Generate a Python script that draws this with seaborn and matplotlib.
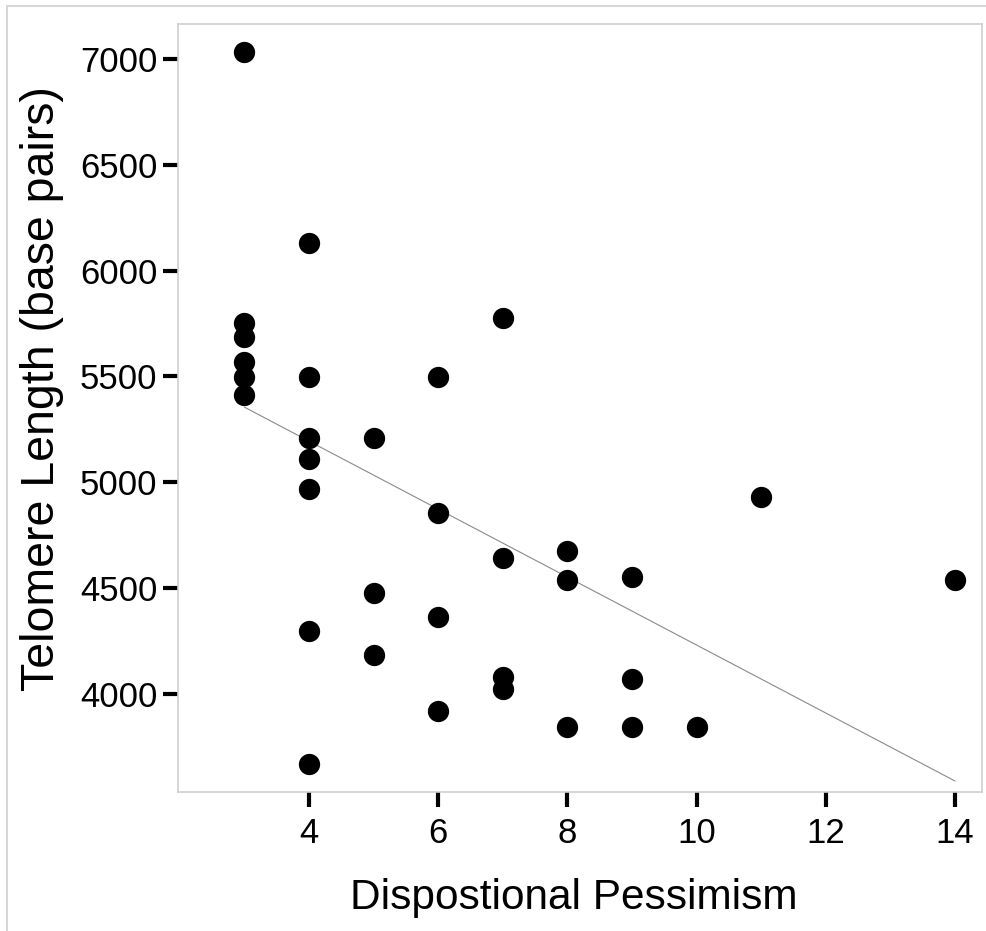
import matplotlib
matplotlib.use("Agg")
import matplotlib.pyplot as plt
from matplotlib.patches import Rectangle
import seaborn as sns
import pandas as pd

# Dispositional pessimism score and telomere length for each participant
pessimism = [3, 3, 3, 3, 3, 3,
             4, 4, 4, 4, 4, 4, 4,
             5, 5, 5,
             6, 6, 6, 6,
             7, 7, 7, 7,
             8, 8, 8,
             9, 9, 9,
             10, 11, 14]
telomere_bp = [7033, 5753, 5686, 5568, 5497, 5411,
               6130, 5497, 5211, 5108, 4966, 4299, 3668,
               5211, 4475, 4184,
               5497, 4856, 4362, 3920,
               5778, 4641, 4081, 4023,
               4677, 4539, 3845,
               4551, 4070, 3845,
               3845, 4930, 4539]

# Linear trend drawn across the observed range
trend_x = [3, 14]
trend_y = [5355, 3589]

x_ticks = [4, 6, 8, 10, 12, 14]
y_ticks = [4000, 4500, 5000, 5500, 6000, 6500, 7000]

df = pd.DataFrame({"pessimism": pessimism, "telomere": telomere_bp})
trend = pd.DataFrame({"pessimism": trend_x, "telomere": trend_y})

sns.set_theme(style="white")
plt.rcParams["font.family"] = ["Liberation Sans", "DejaVu Sans"]

fig = plt.figure(figsize=(9.86, 9.31), dpi=100)
ax = fig.add_axes([178 / 986, 1 - 792 / 931, (982 - 178) / 986, (792 - 24) / 931])

sns.lineplot(data=trend, x="pessimism", y="telomere", ax=ax,
             color="#8a8a8a", linewidth=0.8, zorder=2)
sns.scatterplot(data=df, x="pessimism", y="telomere", ax=ax,
                color="black", s=235, linewidth=0, zorder=3)

ax.set_xlim(1.972, 14.418)
ax.set_ylim(3537, 7165)
ax.set_xticks(x_ticks)
ax.set_yticks(y_ticks)
ax.set_xticklabels([str(v) for v in x_ticks])
ax.set_yticklabels([str(v) for v in y_ticks])

ax.tick_params(axis="both", which="major", direction="out", length=11,
               width=3, color="black", labelsize=25, labelcolor="black",
               bottom=True, left=True, top=False, right=False)
ax.tick_params(axis="x", pad=7)
ax.tick_params(axis="y", pad=4)

for side in ["left", "right", "top", "bottom"]:
    ax.spines[side].set_visible(True)
    ax.spines[side].set_color("#cfcfcf")
    ax.spines[side].set_linewidth(1.2)

ax.set_xlabel("Dispostional Pessimism", fontsize=30.5, color="black")
ax.set_ylabel("Telomere Length (base pairs)", fontsize=33.5, color="black")
ax.xaxis.set_label_coords(0.492, -0.112)
ax.yaxis.set_label_coords(-0.142, 0.525)

# Thin outer frame along the left and top edges
fig.patches.append(Rectangle((7 / 986, -0.05), 1.2, 1.05 - 6 / 931,
                             transform=fig.transFigure, fill=False,
                             edgecolor="#d6d6d6", linewidth=1.4, zorder=0))

fig.savefig("out.png", dpi=100, facecolor="white")
